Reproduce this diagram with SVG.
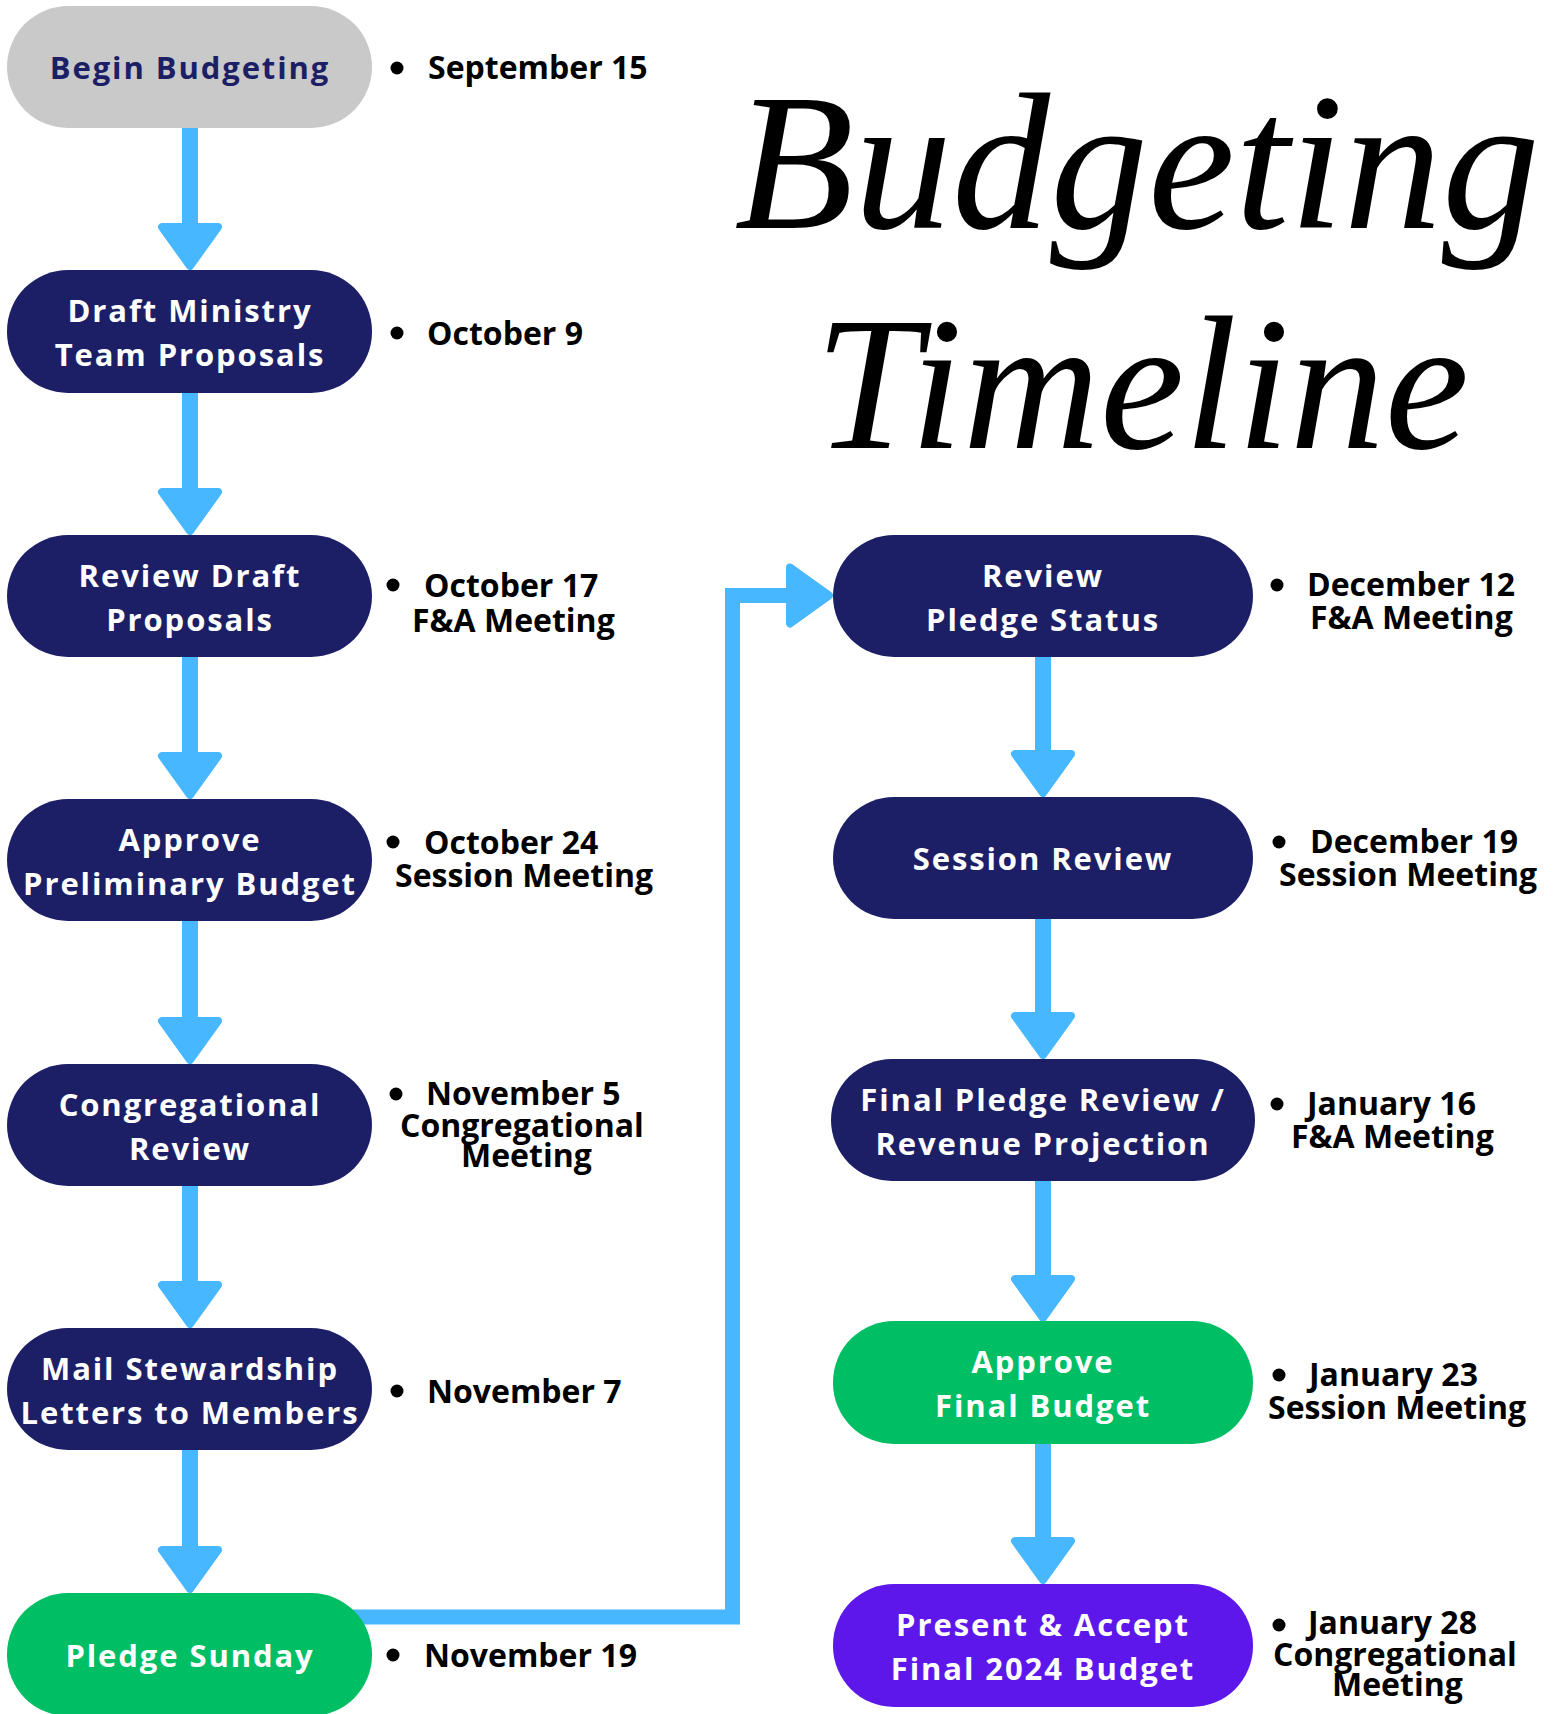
<svg xmlns="http://www.w3.org/2000/svg" xmlns:xlink="http://www.w3.org/1999/xlink" width="1553" height="1714" viewBox="0 0 1553 1714">
<style>
.navy{fill:#1C1F66}
.grey{fill:#C9C9C9}
.green{fill:#00BE64}
.purple{fill:#5E17EB}
.lbl{font-family:"Open Sans","Liberation Sans",sans-serif;font-weight:700;font-size:31px;letter-spacing:1.9px;fill:#FFFFFF;text-anchor:middle}
.lbl-dark{fill:#1C1F66}
.date{font-family:"Open Sans","Liberation Sans",sans-serif;font-weight:700;font-size:32px;fill:#000000}
.bullet{fill:#000000}
.line{fill:none;stroke:#47B7FF;stroke-width:16}
.ah{fill:#47B7FF;stroke:#47B7FF;stroke-width:8;stroke-linejoin:round}
.title{font-family:"Liberation Serif","DejaVu Serif",serif;font-style:italic;font-weight:400;fill:#000000}
</style>
<defs>
<path id="ah" d="M-28,4 L28,4 L0,43 Z"/>
</defs>
<rect width="1553" height="1714" fill="#FFFFFF"/>

<g id="title">
<text class="title" x="1137" y="228" font-size="196" text-anchor="middle">Budgeting</text>
<text class="title" x="1142" y="448" font-size="190" text-anchor="middle">Timeline</text>
</g>

<g id="connectors">
<line class="line" x1="190" y1="128" x2="190" y2="226"/>
<use xlink:href="#ah" class="ah" transform="translate(190,223)"/>
<line class="line" x1="190" y1="392" x2="190" y2="491"/>
<use xlink:href="#ah" class="ah" transform="translate(190,488)"/>
<line class="line" x1="190" y1="657" x2="190" y2="755"/>
<use xlink:href="#ah" class="ah" transform="translate(190,752)"/>
<line class="line" x1="190" y1="921" x2="190" y2="1020"/>
<use xlink:href="#ah" class="ah" transform="translate(190,1017)"/>
<line class="line" x1="190" y1="1186" x2="190" y2="1284"/>
<use xlink:href="#ah" class="ah" transform="translate(190,1281)"/>
<line class="line" x1="190" y1="1450" x2="190" y2="1549"/>
<use xlink:href="#ah" class="ah" transform="translate(190,1546)"/>
<path class="line" style="stroke-width:15;stroke-linejoin:miter" d="M190,1617 H732.5 V595.5 H790"/>
<use xlink:href="#ah" class="ah" transform="translate(786,595.5) rotate(-90)"/>
<line class="line" x1="1043" y1="657" x2="1043" y2="753"/>
<use xlink:href="#ah" class="ah" transform="translate(1043,750)"/>
<line class="line" x1="1043" y1="919" x2="1043" y2="1015"/>
<use xlink:href="#ah" class="ah" transform="translate(1043,1012)"/>
<line class="line" x1="1043" y1="1181" x2="1043" y2="1278"/>
<use xlink:href="#ah" class="ah" transform="translate(1043,1275)"/>
<line class="line" x1="1043" y1="1444" x2="1043" y2="1540"/>
<use xlink:href="#ah" class="ah" transform="translate(1043,1537)"/>
</g>

<g id="node-begin">
<rect class="grey" x="7" y="6" width="365" height="122" rx="61"/>
<text class="lbl lbl-dark" x="190" y="79">Begin Budgeting</text>
<circle class="bullet" cx="397" cy="68" r="6.5"/>
<text class="date" x="428" y="79">September 15</text>
</g>

<g id="node-draft">
<rect class="navy" x="7" y="270" width="365" height="123" rx="61"/>
<text class="lbl" x="190" y="322">Draft Ministry</text>
<text class="lbl" x="190" y="366">Team Proposals</text>
<circle class="bullet" cx="397" cy="333" r="6.5"/>
<text class="date" x="427" y="345">October 9</text>
</g>

<g id="node-review-draft">
<rect class="navy" x="7" y="535" width="365" height="122" rx="61"/>
<text class="lbl" x="190" y="587">Review Draft</text>
<text class="lbl" x="190" y="631">Proposals</text>
<circle class="bullet" cx="393" cy="585" r="6.5"/>
<text class="date" x="424" y="597">October 17</text>
<text class="date" x="412" y="632">F&amp;A Meeting</text>
</g>

<g id="node-approve-prelim">
<rect class="navy" x="7" y="799" width="365" height="122" rx="61"/>
<text class="lbl" x="190" y="851">Approve</text>
<text class="lbl" x="190" y="895">Preliminary Budget</text>
<circle class="bullet" cx="393" cy="842" r="6.5"/>
<text class="date" x="424" y="854">October 24</text>
<text class="date" x="395" y="887">Session Meeting</text>
</g>

<g id="node-cong-review">
<rect class="navy" x="7" y="1064" width="365" height="122" rx="61"/>
<text class="lbl" x="190" y="1116">Congregational</text>
<text class="lbl" x="190" y="1160">Review</text>
<circle class="bullet" cx="396" cy="1094" r="6.5"/>
<text class="date" x="426" y="1105">November 5</text>
<text class="date" x="400" y="1137">Congregational</text>
<text class="date" x="461" y="1167">Meeting</text>
</g>

<g id="node-mail">
<rect class="navy" x="7" y="1328" width="365" height="122" rx="61"/>
<text class="lbl" x="190" y="1380">Mail Stewardship</text>
<text class="lbl" x="190" y="1424">Letters to Members</text>
<circle class="bullet" cx="397" cy="1391" r="6.5"/>
<text class="date" x="427" y="1403">November 7</text>
</g>

<g id="node-pledge-sunday">
<rect class="green" x="7" y="1593" width="365" height="123" rx="61"/>
<text class="lbl" x="190" y="1667">Pledge Sunday</text>
<circle class="bullet" cx="393" cy="1655" r="6.5"/>
<text class="date" x="424" y="1667">November 19</text>
</g>

<g id="node-review-pledge">
<rect class="navy" x="833" y="535" width="420" height="122" rx="61"/>
<text class="lbl" x="1043" y="587">Review</text>
<text class="lbl" x="1043" y="631">Pledge Status</text>
<circle class="bullet" cx="1277" cy="585" r="6.5"/>
<text class="date" x="1307" y="596">December 12</text>
<text class="date" x="1310" y="629">F&amp;A Meeting</text>
</g>

<g id="node-session-review">
<rect class="navy" x="833" y="797" width="420" height="122" rx="61"/>
<text class="lbl" x="1043" y="870">Session Review</text>
<circle class="bullet" cx="1279" cy="842" r="6.5"/>
<text class="date" x="1310" y="853">December 19</text>
<text class="date" x="1279" y="886">Session Meeting</text>
</g>

<g id="node-final-pledge">
<rect class="navy" x="831" y="1059" width="424" height="122" rx="61"/>
<text class="lbl" x="1043" y="1111">Final Pledge Review /</text>
<text class="lbl" x="1043" y="1155">Revenue Projection</text>
<circle class="bullet" cx="1277" cy="1104" r="6.5"/>
<text class="date" x="1307" y="1115">January 16</text>
<text class="date" x="1291" y="1148">F&amp;A Meeting</text>
</g>

<g id="node-approve-final">
<rect class="green" x="833" y="1321" width="420" height="123" rx="61"/>
<text class="lbl" x="1043" y="1373">Approve</text>
<text class="lbl" x="1043" y="1417">Final Budget</text>
<circle class="bullet" cx="1279" cy="1375" r="6.5"/>
<text class="date" x="1309" y="1386">January 23</text>
<text class="date" x="1268" y="1419">Session Meeting</text>
</g>

<g id="node-present">
<rect class="purple" x="833" y="1584" width="420" height="123" rx="61"/>
<text class="lbl" x="1043" y="1636">Present &amp; Accept</text>
<text class="lbl" x="1043" y="1680">Final 2024 Budget</text>
<circle class="bullet" cx="1279" cy="1625" r="6.5"/>
<text class="date" x="1308" y="1634">January 28</text>
<text class="date" x="1273" y="1666">Congregational</text>
<text class="date" x="1332" y="1696">Meeting</text>
</g>
</svg>
